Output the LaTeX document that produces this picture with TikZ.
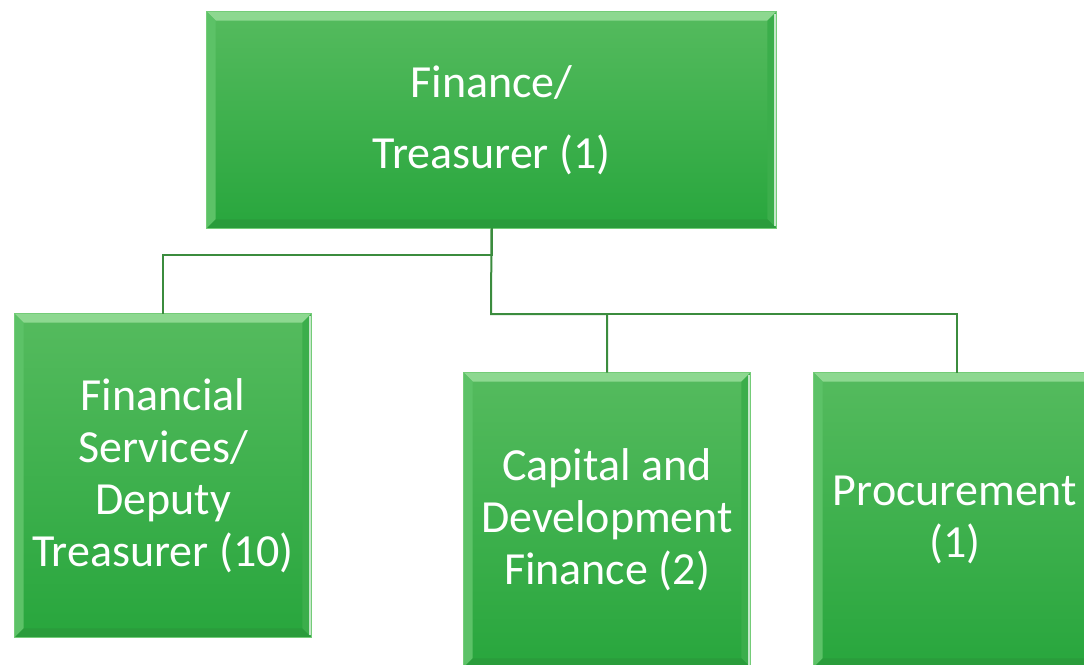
\documentclass[tikz,border=0pt]{standalone}
\usepackage{fontspec}
\setmainfont{Carlito}
\usetikzlibrary{calc}
\definecolor{gtop}{HTML}{55BB5E}
\definecolor{gbot}{HTML}{28A63D}
\definecolor{bevlight}{HTML}{8DD890}
\definecolor{bevleft}{HTML}{5CC267}
\definecolor{bevright}{HTML}{3BAE4B}
\definecolor{bevbot}{HTML}{2A9C3B}
\definecolor{edge}{HTML}{74CC78}
\definecolor{conncol}{HTML}{3B8C3E}
\tikzset{
  x=1pt, y=-1pt,
  orgbox/.style={rectangle, inner sep=0pt, top color=gtop, bottom color=gbot,
    draw=edge, line width=0.8pt},
  boxtext/.style={text=white, align=center, inner sep=0pt,
    font=\fontsize{46}{52}\selectfont},
  conn/.style={draw=conncol, line width=2pt},
}
\newcommand\bevelbox[1]{%
  \fill[bevlight] (#1.north west) -- (#1.north east) -- ([shift={(-9,9)}]#1.north east) -- ([shift={(9,9)}]#1.north west) -- cycle;
  \fill[bevleft] (#1.north west) -- ([shift={(9,9)}]#1.north west) -- ([shift={(9,-9)}]#1.south west) -- (#1.south west) -- cycle;
  \fill[bevright] (#1.north east) -- ([shift={(-9,9)}]#1.north east) -- ([shift={(-9,-9)}]#1.south east) -- (#1.south east) -- cycle;
  \fill[bevbot] (#1.south west) -- ([shift={(9,-9)}]#1.south west) -- ([shift={(-9,-9)}]#1.south east) -- (#1.south east) -- cycle;
  \draw[white!70!bevright, line width=1.5pt] ([shift={(-1.5,2)}]#1.north east) -- ([shift={(-1.5,-2)}]#1.south east);
  \draw[edge, line width=0.8pt] (#1.north west) rectangle (#1.south east);
}
\begin{document}
\begin{tikzpicture}
\clip (0,0) rectangle (1084,664);
\fill[white] (0,0) rectangle (1084,664);
% boxes
\node[orgbox, minimum width=569pt, minimum height=216pt] (top) at (491.5,120) {};
\node[orgbox, minimum width=296pt, minimum height=323pt] (fs) at (163,475.5) {};
\node[orgbox, minimum width=286pt, minimum height=294pt] (cap) at (607,520) {};
\node[orgbox, minimum width=286pt, minimum height=294pt] (proc) at (957,520) {};
\bevelbox{top}
\bevelbox{fs}
\bevelbox{cap}
\bevelbox{proc}
% texts
\node[boxtext, font=\fontsize{46}{71}\selectfont] (toptext) at (top.center) {Finance/\\Treasurer (1)};
\node[boxtext] (fstext) at (fs.center) {Financial\\Services/\\Deputy\\Treasurer (10)};
\node[boxtext] (captext) at (cap.center) {Capital and\\Development\\Finance (2)};
\node[boxtext] (proctext) at (955,520) {Procurement\\(1)};
% connectors
\coordinate (bus) at (491,314);
\draw[conn] (top.south) -- ++(0,27) -| (fs.north);
\draw[conn] (top.south) -- (bus) -| (cap.north);
\draw[conn] (bus) -| (proc.north);
\end{tikzpicture}
\end{document}
